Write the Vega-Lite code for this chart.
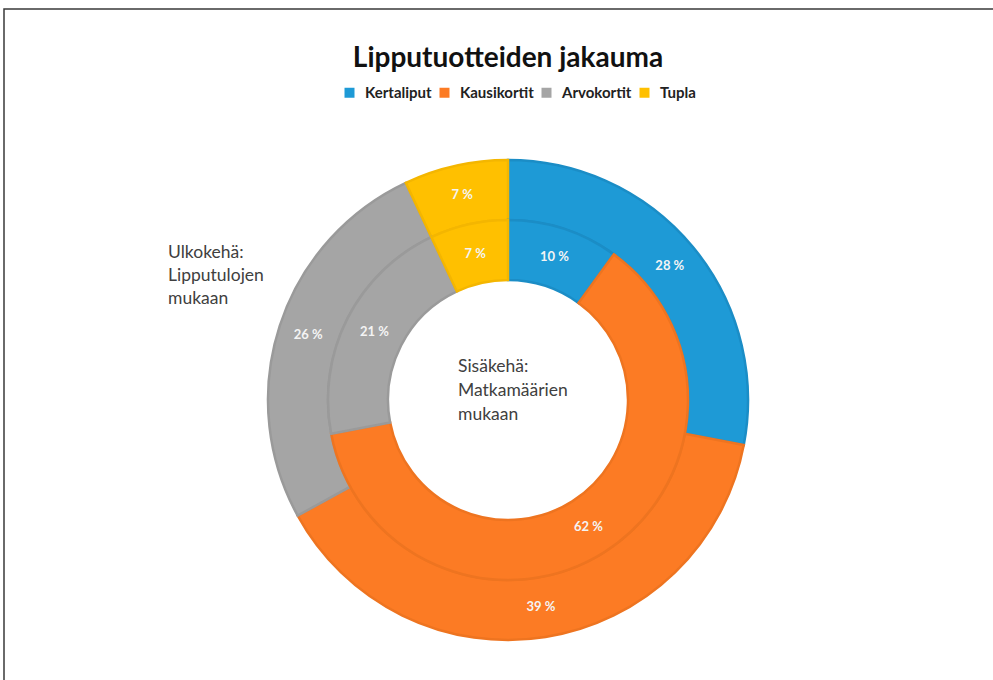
{
  "$schema": "https://vega.github.io/schema/vega-lite/v6.json",
  "width": 1008,
  "height": 782,
  "autosize": {"type": "none"},
  "padding": {"left": 4, "top": 9, "right": 0, "bottom": 0},
  "background": "white",
  "view": {"stroke": "#3a3a3a", "strokeWidth": 1.5},
  "title": {
    "text": "Lipputuotteiden jakauma",
    "anchor": "middle",
    "frame": "group",
    "font": "Lato",
    "fontSize": 28,
    "fontWeight": "bold",
    "color": "#111111",
    "baseline": "alphabetic",
    "offset": -86
  },
  "datasets": {
    "renkaat": [
      {"rengas": "Ulkokehä", "tuote": "Kertaliput", "osuus": 28, "nro": 1},
      {"rengas": "Ulkokehä", "tuote": "Kausikortit", "osuus": 39, "nro": 2},
      {"rengas": "Ulkokehä", "tuote": "Arvokortit", "osuus": 26, "nro": 3},
      {"rengas": "Ulkokehä", "tuote": "Tupla", "osuus": 7, "nro": 4},
      {"rengas": "Sisäkehä", "tuote": "Kertaliput", "osuus": 10, "nro": 1},
      {"rengas": "Sisäkehä", "tuote": "Kausikortit", "osuus": 62, "nro": 2},
      {"rengas": "Sisäkehä", "tuote": "Arvokortit", "osuus": 21, "nro": 3},
      {"rengas": "Sisäkehä", "tuote": "Tupla", "osuus": 7, "nro": 4}
    ],
    "selitteet": [
      {"kuvaus": "Ulkokehä:|Lipputulojen|mukaan", "kohta": "ulko"},
      {"kuvaus": "Sisäkehä:|Matkamäärien|mukaan", "kohta": "sisa"}
    ]
  },
  "config": {
    "legend": {
      "orient": "none",
      "legendX": 338,
      "legendY": 76,
      "direction": "horizontal",
      "symbolType": "square",
      "symbolSize": 100,
      "symbolStrokeWidth": 0,
      "labelFont": "Lato",
      "labelFontSize": 15,
      "labelFontWeight": "bold",
      "labelColor": "#222222",
      "columnPadding": 5,
      "labelOffset": 8
    }
  },
  "layer": [
    {
      "data": {"name": "renkaat"},
      "transform": [{"filter": "datum.rengas === 'Ulkokehä'"}],
      "mark": {"type": "arc", "outerRadius": 240, "innerRadius": 180, "strokeWidth": 2.5},
      "encoding": {
        "theta": {"field": "osuus", "type": "quantitative", "stack": true, "scale": {"domain": [0, 100]}},
        "order": {"field": "nro", "type": "quantitative"},
        "fill": {
          "field": "tuote", "type": "nominal",
          "scale": {"domain": ["Kertaliput", "Kausikortit", "Arvokortit", "Tupla"], "range": ["#1E9AD6", "#FC7B24", "#A5A5A5", "#FFC000"]},
          "legend": {"title": null}
        },
        "stroke": {
          "field": "tuote", "type": "nominal",
          "scale": {"domain": ["Kertaliput", "Kausikortit", "Arvokortit", "Tupla"], "range": ["#1B8DC6", "#EE7420", "#9A9A9A", "#F4B600"]},
          "legend": null
        }
      }
    },
    {
      "data": {"name": "renkaat"},
      "transform": [{"filter": "datum.rengas === 'Sisäkehä'"}],
      "mark": {"type": "arc", "outerRadius": 180, "innerRadius": 120, "strokeWidth": 2.5},
      "encoding": {
        "theta": {"field": "osuus", "type": "quantitative", "stack": true, "scale": {"domain": [0, 100]}},
        "order": {"field": "nro", "type": "quantitative"},
        "fill": {"field": "tuote", "type": "nominal"},
        "stroke": {"field": "tuote", "type": "nominal"}
      }
    },
    {
      "data": {"name": "renkaat"},
      "transform": [{"filter": "datum.rengas === 'Ulkokehä'"}, {"calculate": "datum.osuus + ' %'", "as": "teksti"}],
      "mark": {"type": "text", "radius": 210, "font": "Lato", "fontSize": 13, "fontWeight": "bold", "color": "#F4F4F4"},
      "encoding": {
        "theta": {"field": "osuus", "type": "quantitative", "stack": true, "scale": {"domain": [0, 100]}},
        "order": {"field": "nro", "type": "quantitative"},
        "text": {"field": "teksti", "type": "nominal"}
      }
    },
    {
      "data": {"name": "renkaat"},
      "transform": [{"filter": "datum.rengas === 'Sisäkehä'"}, {"calculate": "datum.osuus + ' %'", "as": "teksti"}],
      "mark": {"type": "text", "radius": 150, "font": "Lato", "fontSize": 13, "fontWeight": "bold", "color": "#F4F4F4"},
      "encoding": {
        "theta": {"field": "osuus", "type": "quantitative", "stack": true, "scale": {"domain": [0, 100]}},
        "order": {"field": "nro", "type": "quantitative"},
        "text": {"field": "teksti", "type": "nominal"}
      }
    },
    {
      "data": {"name": "selitteet"},
      "transform": [{"filter": "datum.kohta === 'ulko'"}],
      "mark": {"type": "text", "align": "left", "baseline": "top", "lineBreak": "|", "lineHeight": 23, "dx": -340, "dy": -156, "font": "Lato", "fontSize": 17.5, "color": "#404040"},
      "encoding": {"text": {"field": "kuvaus", "type": "nominal"}}
    },
    {
      "data": {"name": "selitteet"},
      "transform": [{"filter": "datum.kohta === 'sisa'"}],
      "mark": {"type": "text", "align": "left", "baseline": "top", "lineBreak": "|", "lineHeight": 24, "dx": -50, "dy": -42, "font": "Lato", "fontSize": 17.5, "color": "#404040"},
      "encoding": {"text": {"field": "kuvaus", "type": "nominal"}}
    }
  ]
}
